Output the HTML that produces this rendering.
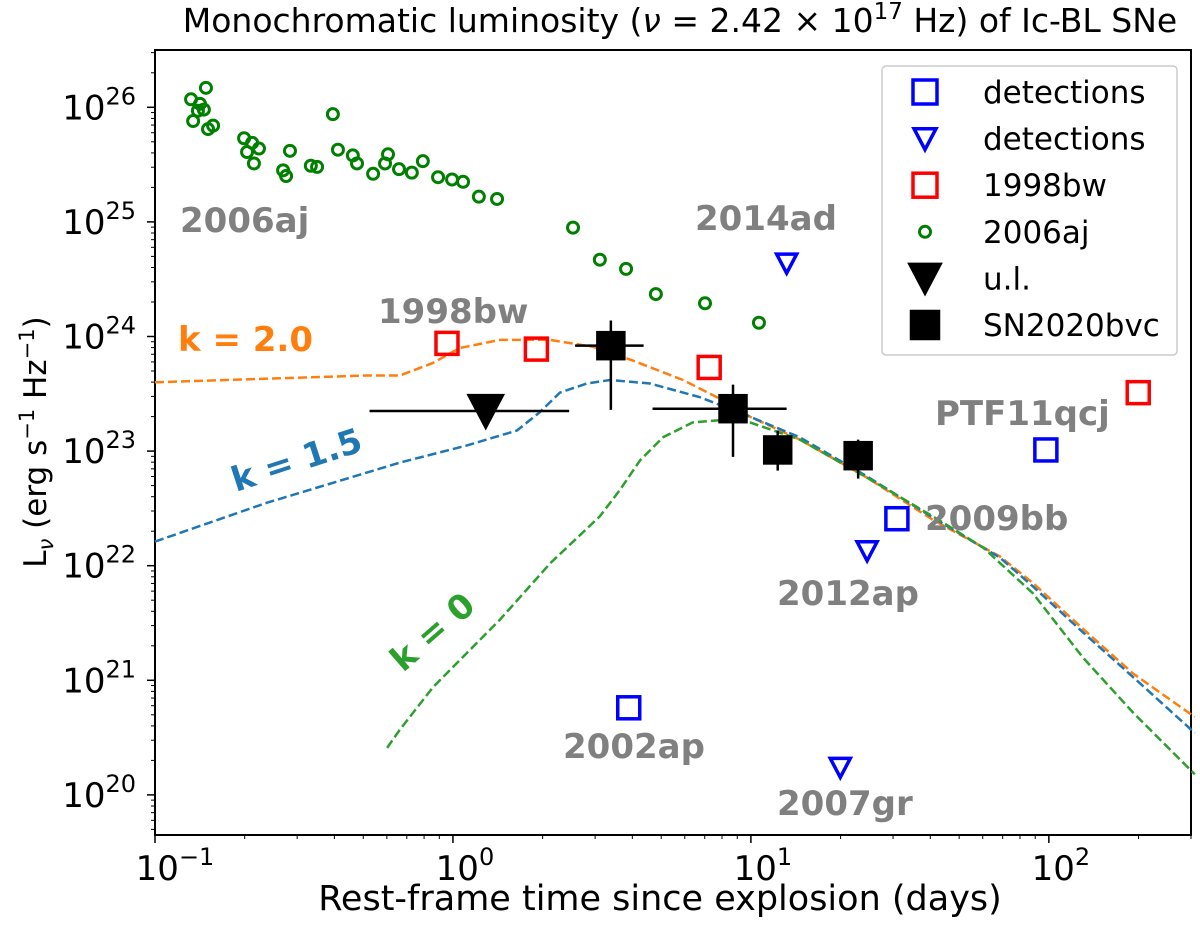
<!DOCTYPE html>
<html><head><meta charset="utf-8"><style>
body{margin:0;background:#fff;}
svg{display:block;font-family:"DejaVu Sans","Liberation Sans",sans-serif;}
</style></head><body>
<svg id="chart" width="1200" height="938" viewBox="0 0 1200 938">
<text x="680" y="32" font-size="33" text-anchor="middle">Monochromatic luminosity (<tspan font-style="italic">ν</tspan> = 2.42 × 10<tspan dy="-13" font-size="23">17</tspan><tspan dy="13"> Hz) of Ic-BL SNe</tspan></text>
<g id="axes"></g>
<g id="series"></g>
<text x="660" y="910" font-size="35" text-anchor="middle">Rest-frame time since explosion (days)</text>
<text transform="translate(46,442) rotate(-90)" font-size="31" text-anchor="middle">L<tspan font-size="21" dy="7" font-style="italic">ν</tspan><tspan dy="-7"> (erg s</tspan><tspan dy="-12" font-size="21">−1</tspan><tspan dy="12"> Hz</tspan><tspan dy="-12" font-size="21">−1</tspan><tspan dy="12">)</tspan></text>
<g font-weight="bold" font-size="34" fill="#808080">
<text x="180" y="232">2006aj</text>
<text x="695" y="230">2014ad</text>
<text x="378" y="323">1998bw</text>
<text x="935" y="425">PTF11qcj</text>
<text x="925" y="530">2009bb</text>
<text x="777" y="605">2012ap</text>
<text x="563" y="758">2002ap</text>
<text x="777" y="815">2007gr</text>
<text x="178" y="351" fill="#ff7f0e">k = 2.0</text>
<text transform="translate(236,492) rotate(-18)" fill="#1f77b4">k = 1.5</text>
<text transform="translate(403,673) rotate(-41)" fill="#2ca02c">k = 0</text>
</g>
<g id="legend">
<rect x="882" y="66" width="295" height="289" rx="4" fill="#fff" stroke="#ccc" stroke-width="1.5"/>
</g>
</svg>
<script>
// log10 of days / log10 of luminosity
const green2006ajT=[-0.879,-0.872,-0.849,-0.856,-0.836,-0.829,-0.822,-0.805,-0.701,-0.691,-0.674,-0.651,-0.668,-0.570,-0.560,-0.547,-0.477,-0.456,-0.403,-0.386,-0.336,-0.322,-0.268,-0.228,-0.218,-0.181,-0.138,-0.101,-0.050,-0.003,0.034,0.087,0.148,0.403,0.493,0.581,0.681,0.846,1.027];
const green2006ajL=[26.07,25.88,26.03,25.97,25.98,26.17,25.81,25.84,25.73,25.61,25.69,25.64,25.51,25.45,25.40,25.62,25.49,25.48,25.94,25.63,25.58,25.51,25.42,25.51,25.59,25.46,25.43,25.53,25.39,25.37,25.35,25.22,25.20,24.95,24.67,24.59,24.37,24.29,24.12];
const bw1998T=[-0.02,0.28,0.86,2.30];
const bw1998L=[23.94,23.89,23.73,23.51];
const detSqT=[0.59,1.49,1.99];
const detSqL=[20.76,22.41,23.01];
const detTriT=[1.12,1.39,1.30];
const detTriL=[24.64,22.13,20.24];
const ulT=[0.11], ulL=[23.35], ulXlo=[-0.28], ulXhi=[0.39];
const bvcT=[0.53,0.94,1.09,1.36];
const bvcL=[23.92,23.37,23.01,22.96];
const bvcXlo=[0.41,0.67,1.09,1.36], bvcXhi=[0.64,1.12,1.09,1.36];
const bvcYlo=[23.36,22.95,22.83,22.76], bvcYhi=[24.14,23.58,23.18,23.10];
const k2T=[-1,-0.289,-0.178,-0.067,0.023,0.158,0.326,0.470,0.604,0.772,0.886,0.997,1.164,1.389,1.611,1.836,1.946,2.114,2.282,2.490];
const k2L=[23.60,23.66,23.66,23.77,23.90,23.97,23.97,23.91,23.79,23.62,23.47,23.30,23.10,22.77,22.40,22.08,21.85,21.45,21.06,20.68];
const k15T=[-1,-0.624,-0.178,0.047,0.215,0.292,0.359,0.450,0.527,0.661,0.829,0.997,1.164,1.389,1.611,1.836,1.946,2.114,2.282,2.490];
const k15L=[22.21,22.55,22.90,23.05,23.18,23.34,23.51,23.59,23.62,23.59,23.47,23.30,23.12,22.78,22.42,22.07,21.82,21.42,21.03,20.54];
const k0T=[-0.221,-0.178,-0.067,0.158,0.326,0.493,0.560,0.628,0.705,0.805,0.896,0.997,1.164,1.389,1.611,1.779,1.946,2.114,2.282,2.490];
const k0L=[20.41,20.57,20.94,21.53,22.02,22.43,22.66,22.92,23.12,23.25,23.27,23.25,23.10,22.77,22.43,22.16,21.76,21.20,20.72,20.18];
const xTicks=[-1,0,1,2], yTicks=[20,21,22,23,24,25,26];

const NS="http://www.w3.org/2000/svg";
const L=155,R=1191,T=50,B=835, X0=-1,X1=Math.log10(300), Y0=19.65,Y1=26.5;
const sx=v=>L+(v-X0)/(X1-X0)*(R-L);
const sy=v=>B-(v-Y0)/(Y1-Y0)*(B-T);
function mk(tag,attrs,parent){const e=document.createElementNS(NS,tag);for(const k in attrs)e.setAttribute(k,attrs[k]);parent.appendChild(e);return e;}
const ax=document.getElementById('axes'), sr=document.getElementById('series');
const frame=mk('rect',{x:L,y:T,width:R-L,height:B-T,fill:'none',stroke:'#000','stroke-width':2},ax);


for(const t of xTicks){
  mk('line',{x1:sx(t),x2:sx(t),y1:B,y2:B+8,stroke:'#000','stroke-width':1.5},ax);
  for(let m=2;m<10;m++){const v=t+Math.log10(m);if(v<=X1)mk('line',{x1:sx(v),x2:sx(v),y1:B,y2:B+4,stroke:'#000','stroke-width':1},ax);}
  const tx=mk('text',{x:sx(t)+(t<0?20:12),y:B+45,'font-size':34,'text-anchor':'middle'},ax);
  
  
  tx.innerHTML='10<tspan dy="-15" font-size="24">'+(t<0?'−'+(-t):t)+'</tspan>';
}
for(const t of yTicks){
  mk('line',{x1:L-8,x2:L,y1:sy(t),y2:sy(t),stroke:'#000','stroke-width':1.5},ax);
  const ty=mk('text',{x:L-19,y:sy(t)+12,'font-size':34,'text-anchor':'end'},ax);
  
  
  ty.innerHTML='10<tspan dy="-15" font-size="24">'+t+'</tspan>';
}
for(let t=19;t<=26;t++)for(let m=2;m<10;m++){const v=t+Math.log10(m);if(v>Y0&&v<Y1)mk('line',{x1:L-4,x2:L,y1:sy(v),y2:sy(v),stroke:'#000','stroke-width':1},ax);}
function line(xs,ys,col,name){
  let d='';for(let i=0;i<xs.length;i++)d+=(d?'L':'M')+sx(xs[i]).toFixed(1)+','+sy(ys[i]).toFixed(1);
  const p=mk('path',{d:d,fill:'none',stroke:col,'stroke-width':2.5,'stroke-dasharray':'9,4','stroke-linejoin':'round'},sr);
  
  
}
line(k2T,k2L,'#ff7f0e','model-k2');
line(k15T,k15L,'#1f77b4','model-k15');
line(k0T,k0L,'#2ca02c','model-k0');
function sq(cx,cy,s,col,fill,name,parent){const r=mk('rect',{x:cx-s/2,y:cy-s/2,width:s,height:s,fill:fill,stroke:col,'stroke-width':3.5},parent||sr);}
function tri(cx,cy,s,col,fill,name,parent,sw){const p=mk('path',{d:`M${cx-s/2},${cy-s*0.45}L${cx+s/2},${cy-s*0.45}L${cx},${cy+s*0.5}Z`,fill:fill,stroke:col,'stroke-width':sw||3.5,'stroke-linejoin':'miter'},parent||sr);}
green2006ajT.forEach((t,i)=>{const c=mk('circle',{cx:sx(t),cy:sy(green2006ajL[i]),r:5.5,fill:'none',stroke:'#008000','stroke-width':3},sr);});
bw1998T.forEach((t,i)=>sq(sx(t),sy(bw1998L[i]),22,'#ff0000','none','point-1998bw'));
detSqT.forEach((t,i)=>sq(sx(t),sy(detSqL[i]),22,'#0000ff','none','point-detection-square'));
detTriT.forEach((t,i)=>tri(sx(t),sy(detTriL[i]),20,'#0000ff','none','point-detection-triangle'));
ulT.forEach((t,i)=>{const y=sy(ulL[i]);mk('line',{x1:sx(ulXlo[i]),x2:sx(ulXhi[i]),y1:y,y2:y,stroke:'#000','stroke-width':2.5},sr);tri(sx(t),y,37,'#000','#000','point-upper-limit',sr,1);});
bvcT.forEach((t,i)=>{const x=sx(t),y=sy(bvcL[i]);
  if(bvcXhi[i]>bvcXlo[i])mk('line',{x1:sx(bvcXlo[i]),x2:sx(bvcXhi[i]),y1:y,y2:y,stroke:'#000','stroke-width':2.5},sr);
  mk('line',{x1:x,x2:x,y1:sy(bvcYlo[i]),y2:sy(bvcYhi[i]),stroke:'#000','stroke-width':2.5},sr);
  sq(x,y,26,'#000','#000','point-sn2020bvc');});
const lg=document.getElementById('legend');
const items=[['sq','#0000ff','detections'],['tri','#0000ff','detections'],['sq','#ff0000','1998bw'],['c','#008000','2006aj'],['ftri','#000','u.l.'],['fsq','#000','SN2020bvc']];
items.forEach((it,i)=>{const y=92+i*46.6,x=925;
  if(it[0]=='sq')sq(x,y,24,it[1],'none','legend-marker',lg);
  else if(it[0]=='tri')tri(x,y,22,it[1],'none','legend-marker',lg);
  else if(it[0]=='fsq')sq(x,y,27,'#000','#000','legend-marker',lg);
  else if(it[0]=='ftri')tri(x,y,34,'#000','#000','legend-marker',lg,1);
  else{const c=mk('circle',{cx:x,cy:y,r:5.5,fill:'none',stroke:it[1],'stroke-width':3},lg);}
  const tx=mk('text',{x:983,y:y+11,'font-size':31},lg);tx.textContent=it[2];
  
  
});
</script>
</body></html>
